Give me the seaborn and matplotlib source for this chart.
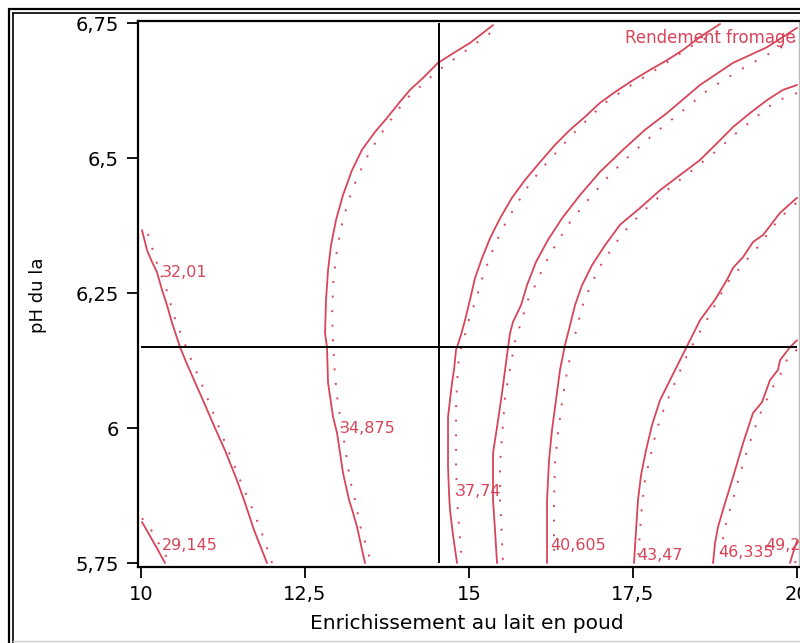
import matplotlib
matplotlib.use("Agg")
import matplotlib.pyplot as plt
from matplotlib.lines import Line2D
import pandas as pd
import seaborn as sns

# Axis ticks
x_ticks = [10, 12.5, 15, 17.5, 20]
x_tick_labels = ["10", "12,5", "15", "17,5", "20"]
y_ticks = [5.75, 6.0, 6.25, 6.5, 6.75]
y_tick_labels = ["5,75", "6", "6,25", "6,5", "6,75"]

# Reference point (crosshair)
cross_x = 14.54
cross_y = 6.150

# Iso-yield curves: solid trace (s) and dotted companion (d)
c1_sx = [10.015, 10.137, 10.259, 10.366]
c1_sy = [5.826, 5.800, 5.774, 5.750]
c1_dx = [10.015, 10.168, 10.290, 10.442]
c1_dy = [5.833, 5.809, 5.782, 5.750]

c2_sx = [10.015, 10.091, 10.168, 10.244, 10.320, 10.396, 10.473, 10.595, 10.686,
         10.823, 10.976, 11.128, 11.280, 11.448, 11.570, 11.723, 11.814, 11.921]
c2_sy = [6.367, 6.330, 6.308, 6.289, 6.256, 6.228, 6.195, 6.150, 6.123,
         6.085, 6.043, 6.000, 5.959, 5.908, 5.867, 5.811, 5.783, 5.750]
c2_dx = [10.107, 10.229, 10.381, 10.503, 10.655, 10.777, 10.930, 11.082, 11.235,
         11.402, 11.540, 11.662, 11.814, 11.966, 11.997]
c2_dy = [6.360, 6.310, 6.260, 6.208, 6.160, 6.123, 6.080, 6.034, 5.987,
         5.937, 5.895, 5.861, 5.815, 5.761, 5.750]

c3_sx = [15.366, 15.015, 14.787, 14.527, 14.299, 14.101, 13.948, 13.750, 13.567,
         13.369, 13.216, 13.079, 12.973, 12.896, 12.851, 12.820, 12.805, 12.835,
         12.851, 12.927, 12.988, 13.034, 13.079, 13.171, 13.232, 13.293, 13.354, 13.415]
c3_sy = [6.747, 6.714, 6.697, 6.677, 6.649, 6.627, 6.605, 6.575, 6.549,
         6.516, 6.478, 6.432, 6.386, 6.339, 6.293, 6.238, 6.176, 6.150,
         6.084, 6.021, 5.991, 5.954, 5.917, 5.867, 5.843, 5.817, 5.783, 5.750]
c3_dx = [15.320, 15.046, 14.771, 14.497, 14.284, 14.040, 13.857, 13.643, 13.460,
         13.293, 13.155, 13.049, 12.973, 12.927, 12.912, 12.927, 12.957, 12.988,
         13.049, 13.125, 13.186, 13.262, 13.338, 13.430, 13.506]
c3_dy = [6.732, 6.708, 6.684, 6.660, 6.636, 6.610, 6.580, 6.543, 6.506,
         6.464, 6.419, 6.371, 6.319, 6.265, 6.208, 6.160, 6.098, 6.058,
         6.010, 5.954, 5.904, 5.867, 5.820, 5.783, 5.750]

c4_sx = [18.826, 18.521, 18.262, 18.018, 17.759, 17.500, 17.226, 16.997, 16.768,
         16.540, 16.311, 16.082, 15.854, 15.655, 15.473, 15.320, 15.198, 15.091,
         15.015, 14.939, 14.878, 14.802, 14.771, 14.741, 14.710, 14.680, 14.680,
         14.680, 14.695, 14.710, 14.756, 14.817]
c4_sy = [6.749, 6.725, 6.701, 6.682, 6.664, 6.645, 6.623, 6.603, 6.577,
         6.553, 6.525, 6.493, 6.460, 6.427, 6.389, 6.352, 6.315, 6.278,
         6.238, 6.200, 6.173, 6.145, 6.108, 6.084, 6.052, 6.021, 5.978,
         5.928, 5.880, 5.848, 5.802, 5.750]
c4_dx = [18.796, 18.323, 17.912, 17.500, 17.073, 16.845, 16.616, 16.387, 16.159,
         15.930, 15.747, 15.564, 15.412, 15.290, 15.183, 15.107, 15.015, 14.909,
         14.848, 14.817, 14.802, 14.802, 14.817, 14.863, 14.893]
c4_dy = [6.736, 6.703, 6.669, 6.638, 6.603, 6.577, 6.549, 6.519, 6.488,
         6.454, 6.419, 6.382, 6.345, 6.308, 6.271, 6.238, 6.208, 6.160,
         6.136, 6.084, 6.034, 5.935, 5.867, 5.793, 5.750]

c5_sx = [20.000, 19.543, 19.024, 18.521, 18.018, 17.683, 17.348, 16.997, 16.692,
         16.418, 16.204, 16.021, 15.884, 15.793, 15.671, 15.625, 15.595, 15.503,
         15.427, 15.366, 15.366, 15.396, 15.427]
c5_sy = [6.742, 6.706, 6.677, 6.636, 6.584, 6.553, 6.516, 6.475, 6.432,
         6.389, 6.349, 6.308, 6.265, 6.228, 6.197, 6.176, 6.150, 6.065,
         6.002, 5.954, 5.867, 5.811, 5.750]
c5_dx = [19.970, 19.588, 19.131, 18.643, 18.216, 17.835, 17.454, 17.119, 16.814,
         16.540, 16.326, 16.143, 15.991, 15.899, 15.823, 15.701, 15.625, 15.549,
         15.503, 15.473, 15.473, 15.503, 15.518]
c5_dy = [6.719, 6.695, 6.664, 6.627, 6.584, 6.547, 6.506, 6.466, 6.423,
         6.382, 6.341, 6.301, 6.260, 6.238, 6.208, 6.160, 6.110, 6.058,
         5.984, 5.935, 5.867, 5.793, 5.750]

c6_sx = [20.000, 19.787, 19.543, 19.284, 19.024, 18.780, 18.521, 18.216, 17.912,
         17.607, 17.302, 17.073, 16.875, 16.723, 16.616, 16.540, 16.463, 16.387,
         16.326, 16.265, 16.220, 16.189, 16.189]
c6_sy = [6.636, 6.627, 6.608, 6.584, 6.558, 6.528, 6.497, 6.469, 6.441,
         6.408, 6.377, 6.339, 6.302, 6.265, 6.228, 6.191, 6.154, 6.108,
         6.052, 5.997, 5.941, 5.867, 5.750]
c6_dx = [20.000, 19.665, 19.360, 19.055, 18.750, 18.445, 18.095, 17.759, 17.454,
         17.210, 16.997, 16.845, 16.723, 16.646, 16.570, 16.494, 16.418, 16.357,
         16.311, 16.296, 16.296]
c6_dy = [6.621, 6.605, 6.575, 6.545, 6.512, 6.482, 6.449, 6.414, 6.377,
         6.339, 6.300, 6.262, 6.225, 6.187, 6.150, 6.104, 6.048, 5.993,
         5.937, 5.867, 5.750]

c7_sx = [20.000, 19.741, 19.482, 19.329, 19.177, 19.024, 18.933, 18.750, 18.521,
         18.369, 18.216, 18.064, 17.912, 17.790, 17.698, 17.622, 17.576, 17.546, 17.515]
c7_sy = [6.427, 6.399, 6.358, 6.345, 6.317, 6.297, 6.275, 6.238, 6.200,
         6.163, 6.126, 6.089, 6.052, 6.006, 5.959, 5.913, 5.867, 5.811, 5.750]
c7_dx = [19.985, 19.726, 19.405, 19.207, 18.933, 18.659, 18.445, 18.277, 18.125,
         17.973, 17.851, 17.759, 17.683, 17.637, 17.607, 17.576]
c7_dy = [6.417, 6.388, 6.336, 6.308, 6.269, 6.208, 6.163, 6.123, 6.080,
         6.037, 5.993, 5.945, 5.904, 5.858, 5.811, 5.750]

c8_sx = [20.000, 19.893, 19.741, 19.710, 19.588, 19.466, 19.329, 19.177, 19.024,
         18.902, 18.796, 18.750, 18.720]
c8_sy = [6.163, 6.150, 6.126, 6.108, 6.089, 6.048, 6.028, 5.972, 5.909,
         5.861, 5.817, 5.787, 5.750]
c8_dx = [20.000, 19.878, 19.771, 19.665, 19.573, 19.466, 19.329, 19.238, 19.116,
         19.009, 18.933, 18.857, 18.826]
c8_dy = [6.145, 6.136, 6.104, 6.084, 6.061, 6.035, 5.991, 5.958, 5.909,
         5.861, 5.833, 5.785, 5.750]

c9_sx = [19.893, 19.939, 20.000]
c9_sy = [5.750, 5.769, 5.791]
c9_dx = [19.970, 20.000]
c9_dy = [5.750, 5.763]

# Contour level labels and their anchor points
label_text = ["29,145", "32,01", "34,875", "37,74", "40,605", "43,47", "46,335", "49,2"]
label_x = [10.320, 10.320, 13.034, 14.802, 16.235, 17.561, 18.796, 19.512]
label_y = [5.783, 6.288, 6.000, 5.883, 5.782, 5.763, 5.769, 5.783]

response_name = "Rendement fromage"
response_x = 17.378
response_y = 6.723

solid_curves = [(c1_sx, c1_sy), (c2_sx, c2_sy), (c3_sx, c3_sy), (c4_sx, c4_sy),
                (c5_sx, c5_sy), (c6_sx, c6_sy), (c7_sx, c7_sy), (c8_sx, c8_sy),
                (c9_sx, c9_sy)]
dotted_curves = [(c1_dx, c1_dy), (c2_dx, c2_dy), (c3_dx, c3_dy), (c4_dx, c4_dy),
                 (c5_dx, c5_dy), (c6_dx, c6_dy), (c7_dx, c7_dy), (c8_dx, c8_dy),
                 (c9_dx, c9_dy)]


def to_frame(curves):
    rows = []
    for i, (xs, ys) in enumerate(curves, start=1):
        for k, (x, y) in enumerate(zip(xs, ys)):
            rows.append({"x": x, "y": y, "curve": i, "order": k})
    return pd.DataFrame(rows)


df_solid = to_frame(solid_curves)
df_dotted = to_frame(dotted_curves)

sns.set_theme(style="white")
plt.rcParams["font.family"] = ["DejaVu Sans"]

RED = "#d8455a"

W, H = 800, 643
fig = plt.figure(figsize=(W / 100, H / 100), dpi=100)
ax = fig.add_axes([138 / W, 76 / H, 661 / W, 546 / H])

sns.lineplot(data=df_solid, x="x", y="y", units="curve", estimator=None,
             sort=False, color=RED, linewidth=1.3, ax=ax, legend=False)
sns.lineplot(data=df_dotted, x="x", y="y", units="curve", estimator=None,
             sort=False, color=RED, linewidth=1.4, linestyle=(0, (1, 6.5)),
             ax=ax, legend=False)

# Crosshair at the reference setting
ax.vlines(cross_x, y_ticks[0], y_ticks[-1], color="black", linewidth=1.4, zorder=3)
ax.hlines(cross_y, x_ticks[0], x_ticks[-1], color="black", linewidth=1.4, zorder=3)

for t, lx, ly in zip(label_text, label_x, label_y):
    ax.text(lx, ly, t, color=RED, fontsize=11.5, ha="left", va="center")

ax.text(response_x, response_y, response_name, color=RED, fontsize=12,
        ha="left", va="center", clip_on=False)

ax.set_xlim(9.954, 20.03)
ax.set_ylim(5.7426, 6.7546)
ax.set_xticks(x_ticks)
ax.set_xticklabels(x_tick_labels)
ax.set_yticks(y_ticks)
ax.set_yticklabels(y_tick_labels)
ax.tick_params(axis="both", direction="out", length=8, width=1.3,
               labelsize=14, colors="black", bottom=True, left=True)
ax.tick_params(axis="x", pad=5)
ax.tick_params(axis="y", pad=6)

for side in ["left", "bottom", "top"]:
    ax.spines[side].set_color("black")
    ax.spines[side].set_linewidth(1.6)
ax.spines["right"].set_color("#bbbbbb")
ax.spines["right"].set_linewidth(1.0)

ax.set_xlabel("Enrichissement au lait en poud", fontsize=14.5, color="black", va="center")
ax.xaxis.set_label_coords(0.4977, -0.1026)
ax.set_ylabel("pH du la", fontsize=13, color="black", va="center")
ax.yaxis.set_label_coords(-0.151, 0.498)

# Double frame around the graph window
tf = fig.transFigure
fig.add_artist(Line2D([9 / W, 9 / W], [0, 1 - 9 / H], transform=tf, color="black", lw=1.6))
fig.add_artist(Line2D([9 / W, 1], [1 - 9 / H, 1 - 9 / H], transform=tf, color="black", lw=1.6))
fig.add_artist(Line2D([12.5 / W, 12.5 / W], [0, 1 - 12.5 / H], transform=tf, color="black", lw=1.2))
fig.add_artist(Line2D([12.5 / W, 1], [1 - 12.5 / H, 1 - 12.5 / H], transform=tf, color="black", lw=1.2))
fig.add_artist(Line2D([12.5 / W, 1], [2 / H, 2 / H], transform=tf, color="#cccccc", lw=1.0))

fig.savefig("out.png", dpi=100)
